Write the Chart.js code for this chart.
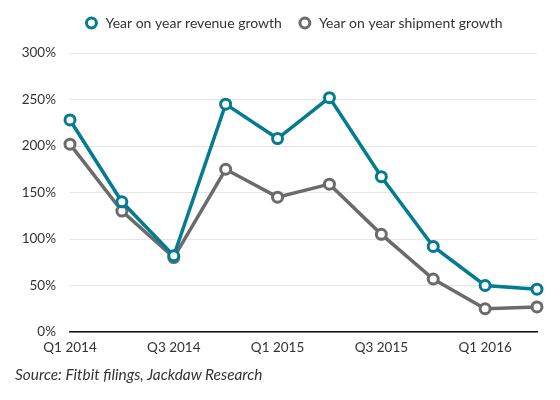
<!DOCTYPE html>
<html lang="en">
<head>
    <meta charset="UTF-8">
    <title>Fitbit growth</title>
    <script src="https://cdn.jsdelivr.net/npm/chart.js"></script>
    <style>
        body { margin: 0; background: #fff; }
        .wrap { position: relative; width: 560px; height: 400px; }
        .source {
            position: absolute;
            left: 15px;
            top: 365px;
            margin: 0;
            font: italic 15.4px Lato, sans-serif;
            color: #333;
        }
    </style>
</head>
<body>
    <div class="wrap">
        <canvas id="growthChart" width="560" height="400"></canvas>
        <p class="source">Source: Fitbit filings, Jackdaw Research</p>
    </div>

    <script>
        const quarters = ['Q1 2014', 'Q2 2014', 'Q3 2014', 'Q4 2014', 'Q1 2015',
                          'Q2 2015', 'Q3 2015', 'Q4 2015', 'Q1 2016', 'Q2 2016'];
        const revenueGrowth = [228, 140, 82, 245, 208, 252, 167, 92, 50, 46];
        const shipmentGrowth = [202, 130, 80, 175, 145, 159, 105, 57, 25, 27];
        const yTicks = [0, 50, 100, 150, 200, 250, 300];

        const teal = '#037b91';
        const grey = '#6b6b6b';

        function series(label, data, color) {
            return {
                label: label,
                data: data,
                borderColor: color,
                borderWidth: 3.5,
                pointRadius: 5,
                pointHoverRadius: 5,
                pointBorderWidth: 3,
                pointBackgroundColor: '#fff',
                pointBorderColor: color,
                tension: 0
            };
        }

        // taller legend box so the plot starts lower, and legend nudged right like the original
        const legendTweak = {
            id: 'legendTweak',
            beforeInit(chart) {
                const fit = chart.legend.fit;
                chart.legend.fit = function () {
                    fit.call(this);
                    this.height += 13;
                };
            },
            afterLayout(chart) {
                chart.legend.left += 21;
                chart.legend.right += 21;
            }
        };

        new Chart(document.getElementById('growthChart'), {
            type: 'line',
            data: {
                labels: quarters,
                datasets: [
                    series('Year on year revenue growth', revenueGrowth, teal),
                    series('Year on year shipment growth', shipmentGrowth, grey)
                ]
            },
            plugins: [legendTweak],
            options: {
                responsive: false,
                animation: false,
                layout: { padding: { left: 8, right: 23, top: 0, bottom: 38 } },
                plugins: {
                    legend: {
                        labels: {
                            usePointStyle: true,
                            pointStyle: 'circle',
                            boxWidth: 18,
                            boxHeight: 7,
                            padding: 16,
                            color: '#333',
                            font: { family: 'Lato', size: 14 }
                        }
                    },
                    tooltip: { enabled: false }
                },
                scales: {
                    x: {
                        offset: false,
                        grid: { display: false, drawTicks: false },
                        border: { color: '#111', width: 1.5 },
                        ticks: {
                            autoSkip: false,
                            maxRotation: 0,
                            padding: 8,
                            color: '#333',
                            font: { family: 'Lato', size: 13.5 },
                            callback: (v, i) => i % 2 === 0 ? quarters[i] : ''
                        },
                        afterFit: s => { s.height = 30; }
                    },
                    y: {
                        min: 0,
                        max: 300,
                        afterBuildTicks: s => { s.ticks = yTicks.map(v => ({ value: v })); },
                        grid: { color: '#e6e6e6', drawTicks: false },
                        border: { display: false },
                        ticks: {
                            padding: 14,
                            color: '#333',
                            font: { family: 'Lato', size: 13.5 },
                            callback: v => v + '%'
                        },
                        afterFit: s => { s.width = 62; }
                    }
                }
            }
        });
    </script>
</body>
</html>
